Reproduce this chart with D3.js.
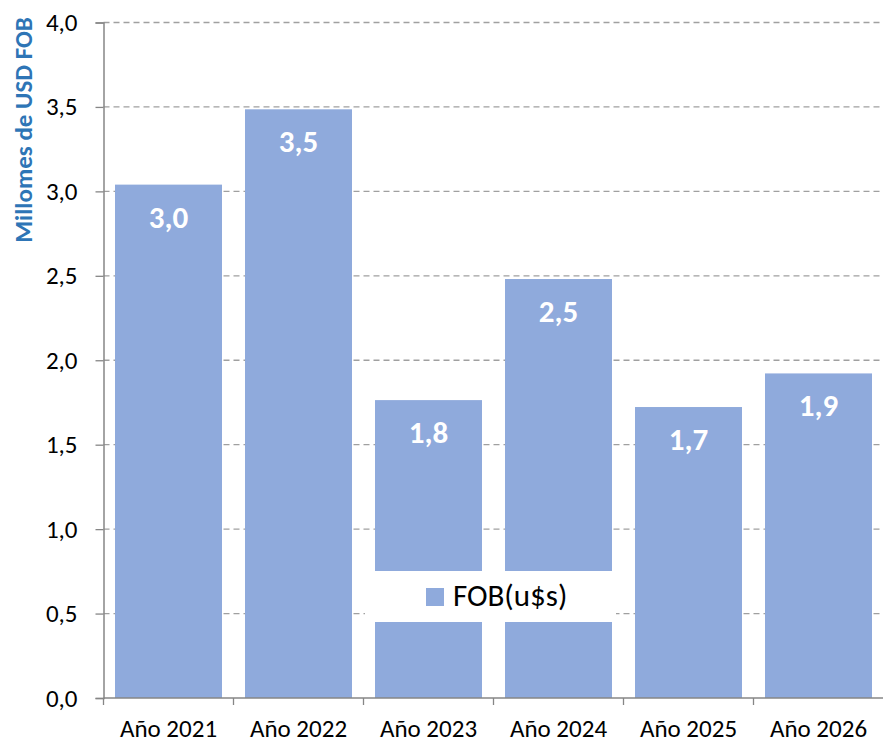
<!DOCTYPE html>
<html>
<head>
<meta charset="utf-8">
<script src="https://cdn.jsdelivr.net/npm/d3@7"></script>
<style>
  body { margin: 0; background: #fff; }
  svg { display: block; font-family: Calibri, Carlito, Lato, sans-serif; }
</style>
</head>
<body>
<script>
// datos
const categorias = ["Año 2021", "Año 2022", "Año 2023", "Año 2024", "Año 2025", "Año 2026"]
const fob = [3.04, 3.486, 1.764, 2.481, 1.723, 1.922]
const ticksY = [0, 0.5, 1, 1.5, 2, 2.5, 3, 3.5, 4]
const serie = "FOB(u$s)"
const tituloY = "Millomes de USD FOB"

const width = 883
const height = 743
const margin = {top: 22.5, right: -0.5, bottom: 45, left: 103.5}
const azul = "#8faadc"
const coma = d => d3.format(".1f")(d).replace(".", ",")

const svg = d3.select("body").append("svg")
  .attr("width", width)
  .attr("height", height)

const x = d3.scaleBand()
  .domain(categorias)
  .range([margin.left, width - margin.right])
  .paddingInner(0.177)
  .paddingOuter(0.0885)

const y = d3.scaleLinear()
  .domain([0, 4])
  .range([height - margin.bottom, margin.top])

// lineas de grilla
svg.append("g")
  .selectAll("line")
  .data(ticksY.filter(d => d > 0))
  .enter().append("line")
  .attr("x1", margin.left)
  .attr("x2", width)
  .attr("y1", d => y(d))
  .attr("y2", d => y(d))
  .attr("stroke", "#a0a0a0")
  .attr("stroke-width", 1.3)
  .attr("stroke-dasharray", "6,4")

// barras
svg.append("g")
  .selectAll("rect")
  .data(fob)
  .enter().append("rect")
  .attr("x", (d, i) => x(categorias[i]))
  .attr("y", d => y(d))
  .attr("width", x.bandwidth())
  .attr("height", d => y(0) - y(d))
  .attr("fill", azul)

// etiquetas de valores
svg.append("g")
  .selectAll("text")
  .data(fob)
  .enter().append("text")
  .attr("x", (d, i) => x(categorias[i]) + x.bandwidth() / 2)
  .attr("y", d => y(d) + 43)
  .attr("text-anchor", "middle")
  .attr("fill", "#fff")
  .attr("font-weight", "bold")
  .attr("font-size", "31px")
  .text(d => coma(d))

// eje y
const ejeY = svg.append("g")
  .attr("transform", "translate(" + margin.left + ",0)")
  .call(d3.axisLeft(y).tickValues(ticksY).tickFormat(coma).tickSize(8).tickPadding(18))
ejeY.select(".domain").attr("stroke", "#868686").attr("stroke-width", 1.5)
ejeY.selectAll(".tick line").attr("stroke", "#868686").attr("stroke-width", 1.3)
ejeY.selectAll(".tick text")
  .attr("font-size", "25px")
  .attr("fill", "#000")
  .attr("font-family", "Calibri, Carlito, Lato, sans-serif")

// eje x con marcas entre categorias
const ejeX = svg.append("g")
  .attr("transform", "translate(0," + y(0) + ")")
ejeX.append("line")
  .attr("x1", margin.left)
  .attr("x2", width)
  .attr("stroke", "#868686")
  .attr("stroke-width", 1.5)
ejeX.selectAll(".marca")
  .data(categorias)
  .enter().append("line")
  .attr("class", "marca")
  .attr("x1", d => x(d) - x.step() * x.paddingOuter())
  .attr("x2", d => x(d) - x.step() * x.paddingOuter())
  .attr("y1", 0)
  .attr("y2", 7)
  .attr("stroke", "#868686")
  .attr("stroke-width", 1.3)
ejeX.selectAll(".cat")
  .data(categorias)
  .enter().append("text")
  .attr("class", "cat")
  .attr("x", d => x(d) + x.bandwidth() / 2)
  .attr("y", 39)
  .attr("text-anchor", "middle")
  .attr("font-size", "25px")
  .text(d => d)

// titulo eje y
svg.append("text")
  .attr("transform", "translate(32,130) rotate(-90)")
  .attr("text-anchor", "middle")
  .attr("fill", "#2e75b6")
  .attr("font-weight", "bold")
  .attr("font-size", "25px")
  .text(tituloY)

// leyenda
const leyenda = svg.append("g")
leyenda.append("rect")
  .attr("x", 365)
  .attr("y", 571)
  .attr("width", 251)
  .attr("height", 51)
  .attr("fill", "#fff")
leyenda.append("rect")
  .attr("x", 426)
  .attr("y", 588)
  .attr("width", 18)
  .attr("height", 18)
  .attr("fill", azul)
leyenda.append("text")
  .attr("x", 453)
  .attr("y", 606)
  .attr("font-size", "31px")
  .text(serie)
</script>
</body>
</html>
